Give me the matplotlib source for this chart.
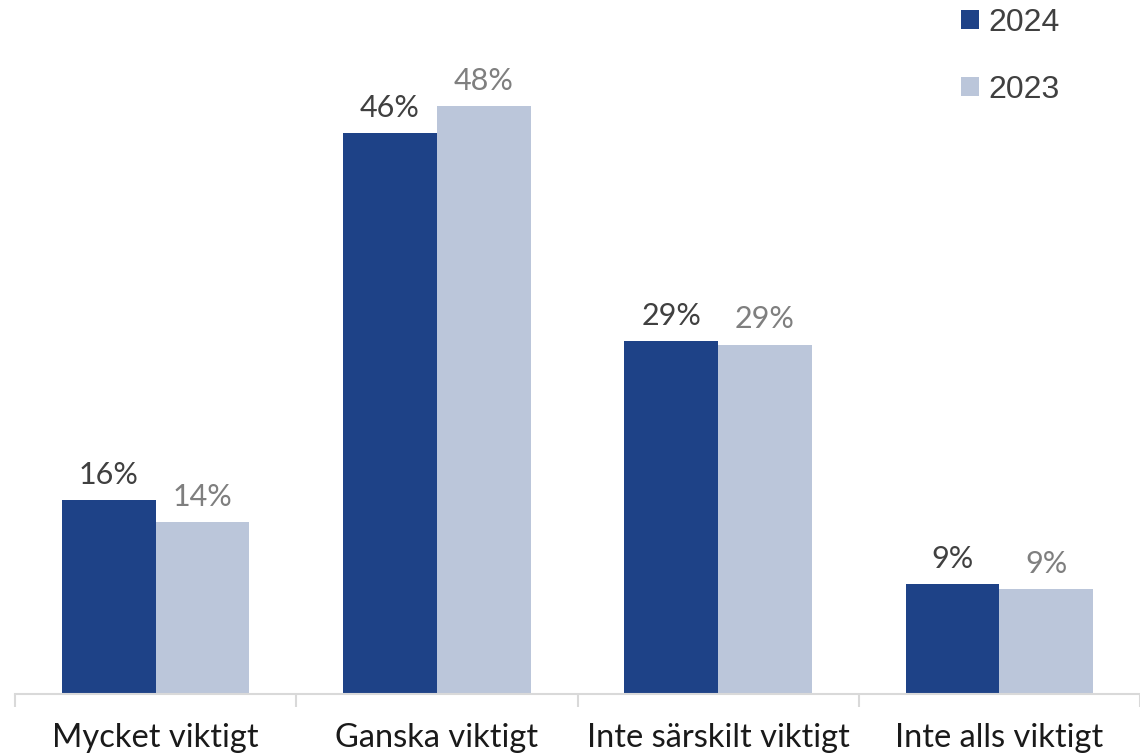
import matplotlib.pyplot as plt
import numpy as np

categories = ['Mycket viktigt', 'Ganska viktigt', 'Inte särskilt viktigt', 'Inte alls viktigt']
years = ['2024', '2023']
values_2024 = [15.9, 46.1, 29.0, 9.0]
values_2023 = [14.1, 48.3, 28.7, 8.6]

COLORS = {'2024': '#1E4287', '2023': '#BBC6DA'}
LABEL_COLORS = {'2024': '#404040', '2023': '#7F7F7F'}
LABEL_FONT = 'Lato'

plt.rcParams['savefig.bbox'] = 'standard'

fig = plt.figure(figsize=(11.4, 7.56), dpi=100)
ax = fig.add_axes([15 / 1140, 62 / 756, 1 - 15 / 1140, 1 - 62 / 756])

x = np.arange(len(categories))
width = 1 / 3

for i, (year, vals) in enumerate([('2024', values_2024), ('2023', values_2023)]):
    offset = -width / 2 if i == 0 else width / 2
    bars = ax.bar(x + offset, vals, width, color=COLORS[year], label=year)
    for b, v in zip(bars, vals):
        ax.annotate(f'{round(v)}%', (b.get_x() + b.get_width() / 2, v),
                    xytext=(0, 8), textcoords='offset points',
                    ha='center', va='bottom', fontsize=22,
                    family=LABEL_FONT, color=LABEL_COLORS[year])

ax.set_xlim(-0.5, 3.446)
ax.set_ylim(0, 57)

for s in ['top', 'right', 'left']:
    ax.spines[s].set_visible(False)
ax.spines['bottom'].set_color('#D9D9D9')
ax.spines['bottom'].set_linewidth(1.5)
ax.set_yticks([])

# category separators below the baseline
ax.set_xticks(np.arange(len(categories) + 1) - 0.5)
ax.set_xticklabels([])
ax.tick_params(axis='x', length=9, width=1.5, color='#D9D9D9')
ax.set_xticks(x, minor=True)
ax.set_xticklabels(categories, minor=True, fontsize=23.5, family=LABEL_FONT, color='#1A1A1A')
ax.tick_params(axis='x', which='minor', length=0, pad=21)

leg = ax.legend(loc='upper left', bbox_to_anchor=(961 / 1140, 748 / 756),
                bbox_transform=fig.transFigure, frameon=False,
                borderpad=0, borderaxespad=0,
                prop={'family': 'Liberation Sans', 'size': 23},
                handlelength=0.56, handleheight=0.56, handletextpad=0.3,
                labelspacing=1.15, labelcolor='#404040')

fig.savefig('out.png', dpi=100)
